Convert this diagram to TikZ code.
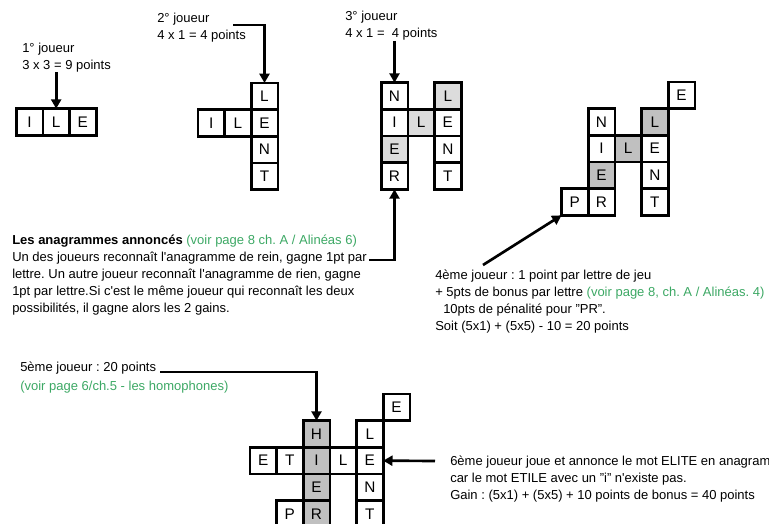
\documentclass[tikz,border=0pt]{standalone}
\usepackage{fontspec}
\setmainfont{Liberation Sans}
\usetikzlibrary{arrows.meta}
\definecolor{voirgreen}{RGB}{60,168,100}
\definecolor{shadelight}{RGB}{220,220,220}
\definecolor{shadedark}{RGB}{192,192,192}

\begin{document}
\frenchspacing
\begin{tikzpicture}[x=0.75pt, y=-0.75pt, node distance=20pt, >={Triangle[length=7pt,width=7.5pt]},
    cell/.style={draw, line width=2pt, minimum size=20pt, inner sep=0pt, outer sep=0pt, font=\fontsize{11.5}{13}\selectfont},
    lit/.style={cell, fill=shadelight},
    dark/.style={cell, fill=shadedark},
    note/.style={anchor=base west, inner sep=0pt, align=left, font=\fontsize{9.75}{12.75}\selectfont},
    pointer/.style={->, line width=2pt}]

\useasboundingbox (0,0) rectangle (769,524);

% 1er joueur : ILE
\node [cell] (ileI) at (29.5,122) {I};
\node [cell, right of=ileI] (ileL) {L};
\node [cell, right of=ileL] (ileE) {E};

% 2e joueur : LENT
\node [cell] (lentE) at (264.5,123) {E};
\node [cell, above of=lentE] (lentL) {L};
\node [cell, below of=lentE] (lentN) {N};
\node [cell, below of=lentN] (lentT) {T};
\node [cell, left of=lentE] (ile2L) {L};
\node [cell, left of=ile2L] (ile2I) {I};

% 3e joueur : NIER
\node [cell] (nierN) at (394.5,96) {N};
\node [cell, below of=nierN] (nierI) {I};
\node [lit, below of=nierI] (nierE) {E};
\node [cell, below of=nierE] (nierR) {R};
\node [lit, right of=nierI] (mid3L) {L};
\node [cell, right of=mid3L] (lent3E) {E};
\node [lit, above of=lent3E] (lent3L) {L};
\node [cell, below of=lent3E] (lent3N) {N};
\node [cell, below of=lent3N] (lent3T) {T};

% 4e joueur : PR
\node [cell] (nier4N) at (601.5,122) {N};
\node [cell, below of=nier4N] (nier4I) {I};
\node [dark, below of=nier4I] (nier4E) {E};
\node [cell, below of=nier4E] (nier4R) {R};
\node [cell, left of=nier4R] (pr4P) {P};
\node [dark, right of=nier4I] (mid4L) {L};
\node [cell, right of=mid4L] (lent4E) {E};
\node [dark, above of=lent4E] (lent4L) {L};
\node [cell, below of=lent4E] (lent4N) {N};
\node [cell, below of=lent4N] (lent4T) {T};
\node [cell] (top4E) at (681.5,95.3) {E};

% 5e et 6e joueurs : HIER, ETILE
\node [dark] (hierH) at (316.5,434) {H};
\node [dark, below of=hierH] (hierI) {I};
\node [dark, below of=hierI] (hierE) {E};
\node [dark, below of=hierE] (hierR) {R};
\node [cell, left of=hierR] (pr5P) {P};
\node [cell, left of=hierI] (etileT) {T};
\node [cell, left of=etileT] (etileE) {E};
\node [cell, right of=hierI] (etileL) {L};
\node [cell, right of=etileL] (lent5E) {E};
\node [cell, above of=lent5E] (lent5L) {L};
\node [cell, below of=lent5E] (lent5N) {N};
\node [cell, below of=lent5N] (lent5T) {T};
\node [cell] (top5E) at (396.5,407.3) {E};

% textes (base = derniere ligne)
\node [note] (joueur1) at (22,69.5) {1° joueur\\3 x 3 = 9 points};
\node [note] (joueur2) at (157,39.5) {2° joueur\\4 x 1 = 4 points};
\node [note] (joueur3) at (345,38) {3° joueur\\4 x 1 = \ 4 points};
\node [note] (anagr) at (12,313) {\textbf{Les anagrammes annoncés} \textcolor{voirgreen}{(voir page 8 ch. A / Alinéas 6)}\\
  Un des joueurs reconnaît l\textquotesingle anagramme de rein, gagne 1pt par\\
  lettre. Un autre joueur reconnaît l\textquotesingle anagramme de rien, gagne\\
  1pt par lettre.Si c\textquotesingle est le même joueur qui reconnaît les deux\\
  possibilités, il gagne alors les 2 gains.};
\node [note] (joueur4) at (435,330.5) {4ème joueur : 1 point par lettre de jeu\\
  + 5pts de bonus par lettre \textcolor{voirgreen}{(voir page 8, ch. A / Alinéas. 4)}\\
  \hspace*{6pt}10pts de pénalité pour "PR".\\
  Soit (5x1) + (5x5) - 10 = 20 points};
\node [note] (joueur5) at (20,372) {5ème joueur : 20 points};
\node [note, text=voirgreen] (voir5) at (20,391) {(voir page 6/ch.5 - les homophones)};
\node [note] (joueur6) at (450,499.5) {6ème joueur joue et annonce le mot ELITE en anagram\\
  car le mot ETILE avec un "i" n\textquotesingle existe pas.\\
  Gain : (5x1) + (5x5) + 10 points de bonus = 40 points};

% fleches
\coordinate (start2) at (233,25);
\coordinate (startana) at (369,260);
\coordinate (start4) at (483,265);
\coordinate (start6) at (435,461);

\draw [pointer] (joueur1.south -| ileL) -- (ileL.north);
\draw [pointer] (start2) -| (lentL.north);
\draw [pointer] (joueur3.south -| nierN) -- (nierN.north);
\draw [pointer] (startana) -| (nierR.south);
\draw [pointer] (start4) -- (pr4P.south west);
\draw [pointer] ([xshift=3pt]joueur5.base east) -| (hierH.north);
\draw [pointer] (start6) -- (lent5E.east);

\end{tikzpicture}
\end{document}
